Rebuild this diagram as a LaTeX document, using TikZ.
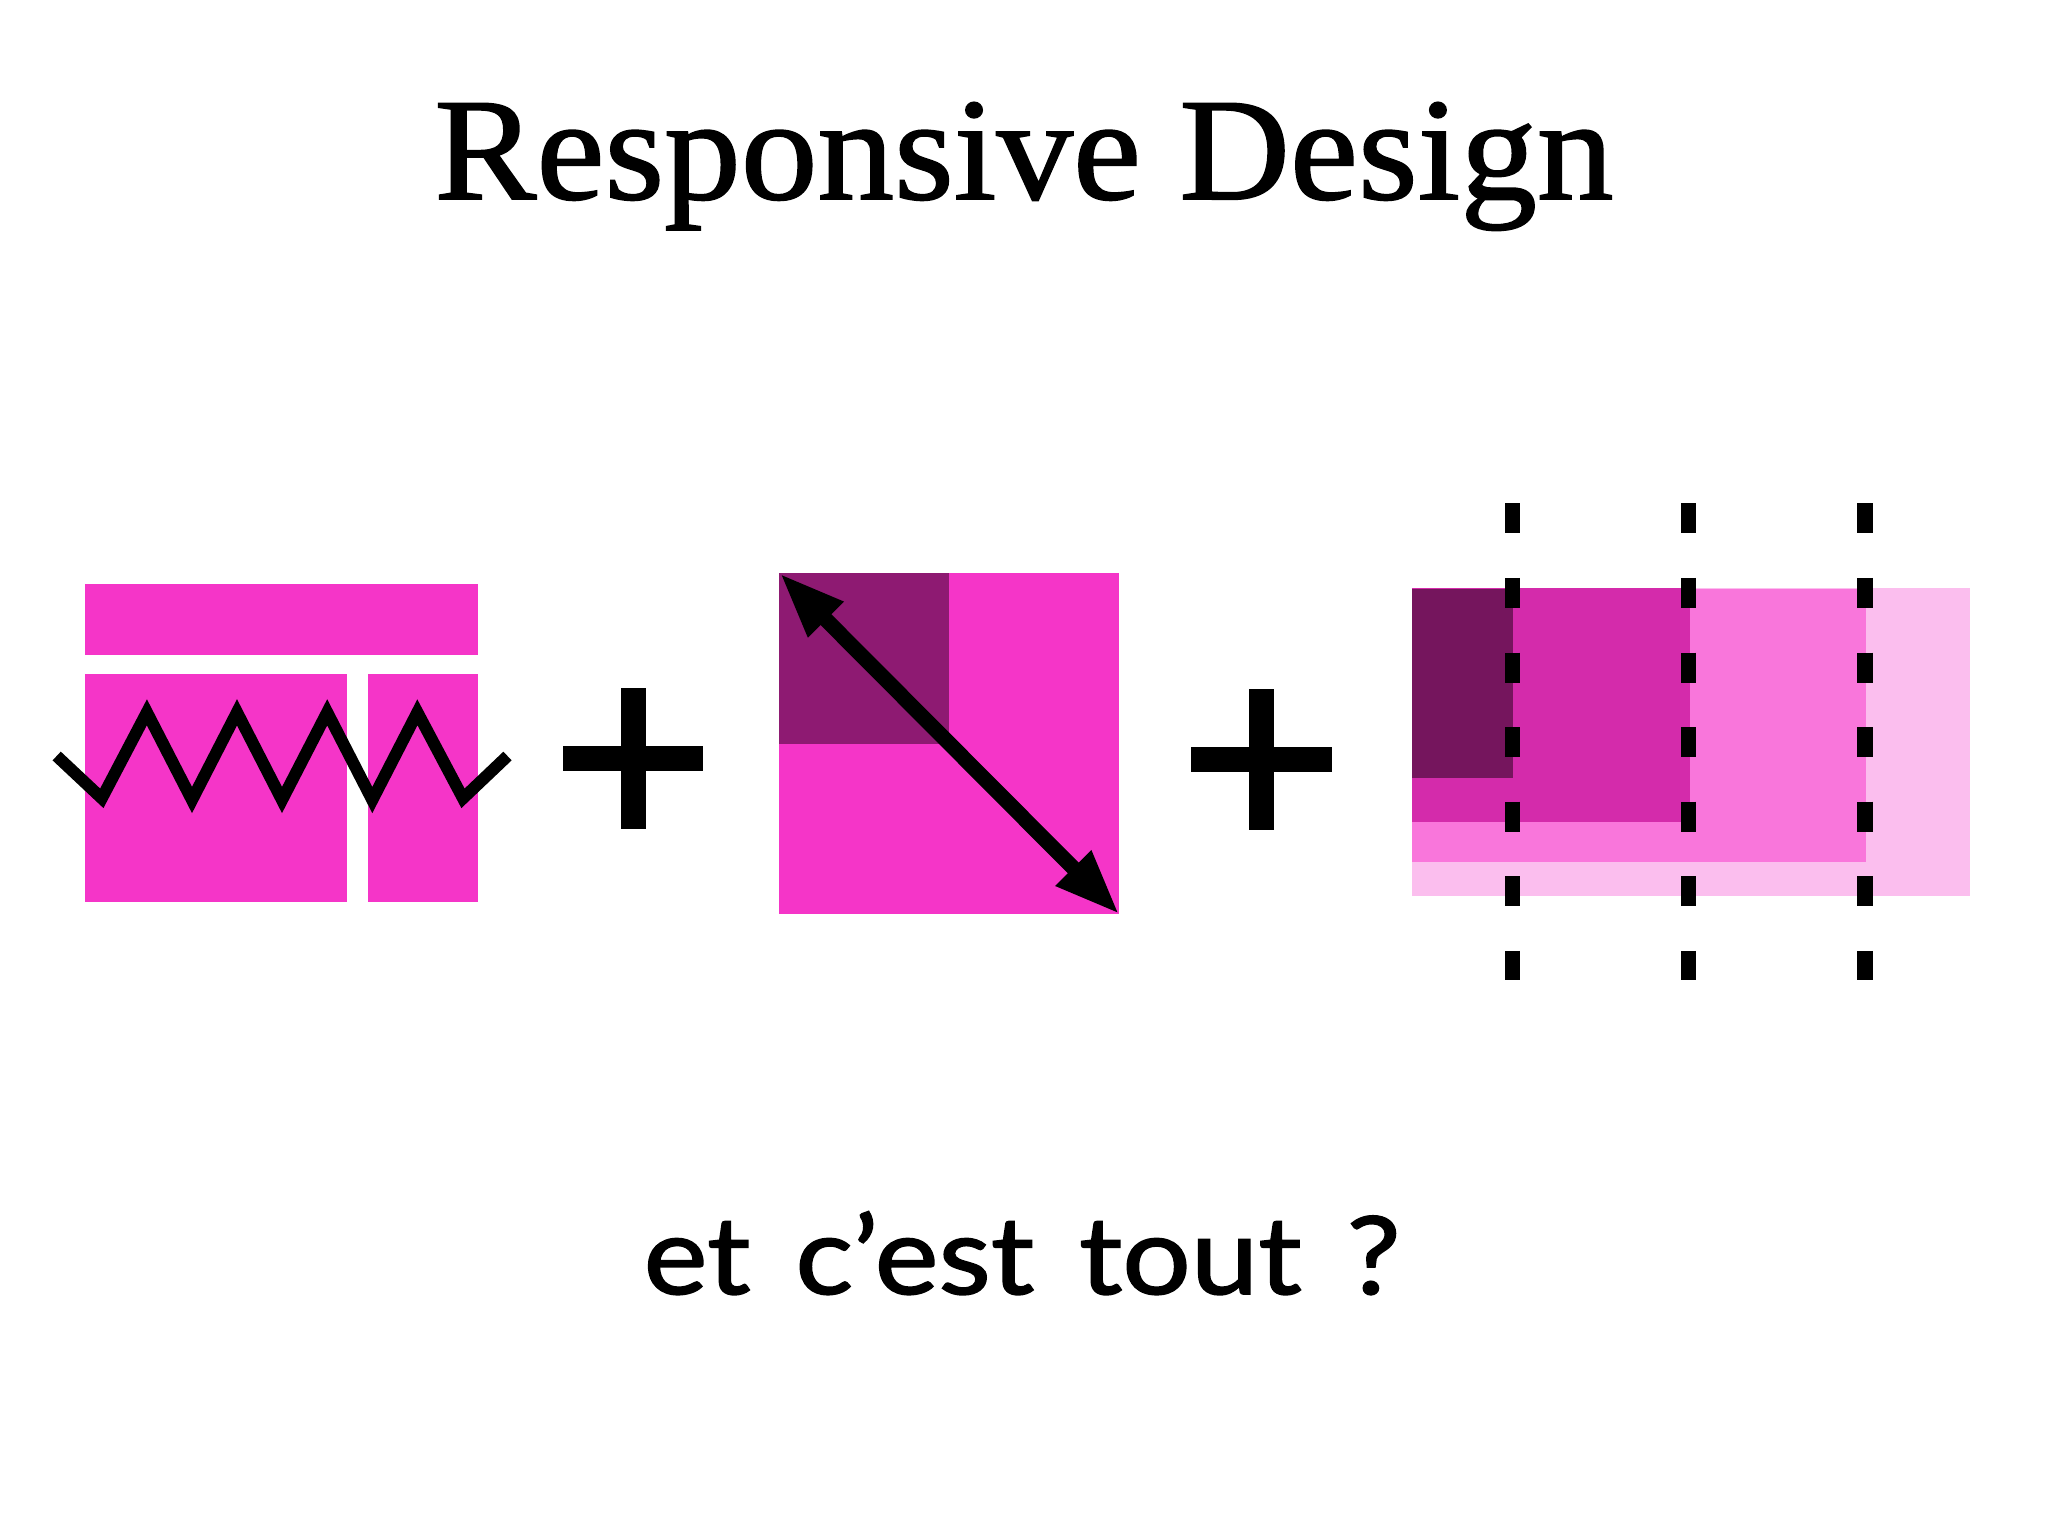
\documentclass[tikz,border=0pt]{standalone}
\usepackage{fontspec}
\usetikzlibrary{arrows.meta}
\setmainfont[FakeStretch=1.05,FakeBold=1.2]{Liberation Serif}
\newfontfamily\gillish[FakeStretch=1.12,FakeBold=1.5,WordSpace=1.45]{Lato}
\definecolor{pinkmain}{HTML}{F535C8}
\definecolor{pinkdark}{HTML}{8E1A72}
\definecolor{pinkdeep}{HTML}{75155D}
\definecolor{pinkstrong}{HTML}{D42BAB}
\definecolor{pinkmid}{HTML}{F976DB}
\definecolor{pinklight}{HTML}{FBBEEE}
\tikzset{
  zig/.style={draw=black,line width=6pt,miter limit=10,line join=miter},
  dbl/.style={draw=black,line width=7.6pt,{Triangle[length=32.7pt,width=23pt]}-{Triangle[length=32.7pt,width=23pt]}},
  cut/.style={draw=black,line width=7.7pt,dash pattern=on 15pt off 22.3pt},
  plusmark/.style={fill=black}
}
\begin{document}
\begin{tikzpicture}[x=0.5pt,y=-0.5pt]
\useasboundingbox (0,0) rectangle (2048,1536);
\fill[white] (0,0) rectangle (2048,1536);
\node[anchor=base,inner sep=0pt,font=\fontsize{73}{80}\selectfont] (title) at (1024,199) {Responsive Design};
% layout
\fill[pinkmain] (85.3,584) rectangle (478.4,655);
\fill[pinkmain] (85.3,674) rectangle (347,901.7);
\fill[pinkmain] (368,674) rectangle (478.4,901.7);
\draw[zig] (56.7,756) -- (101.8,798.3) -- (146.9,712.3) -- (192,800) -- (237,712.3) -- (282,800) -- (327.2,712.3) -- (372.3,800) -- (417.4,712.3) -- (463,798.3) -- (507.5,756);
\fill[plusmark] (621,688.3) rectangle (645.7,828.7);
\fill[plusmark] (563.3,746) rectangle (703.3,770.7);
% square
\fill[pinkmain] (779,573) rectangle (1119.4,914.3);
\fill[pinkdark] (779,573) rectangle (949.4,743.7);
\coordinate (a1) at (779.8,573.3);
\coordinate (a2) at (1119.4,914.3);
\draw[dbl] (a1) -- (a2);
\fill[plusmark] (1249.1,689.3) rectangle (1274,829.7);
\fill[plusmark] (1191.4,747.3) rectangle (1331.8,771.7);
% breakpoints
\fill[pinklight] (1412,587.7) rectangle (1970,896);
\fill[pinkmid] (1412,589.3) rectangle (1866,861.7);
\fill[pinkstrong] (1412,587.7) rectangle (1689.6,821.7);
\fill[pinkdeep] (1412,589.3) rectangle (1513.3,778.3);
\foreach \x in {1512.7,1688.7,1865}{
  \draw[cut] (\x,503.3) -- (\x,980);
}
\node[anchor=base,inner sep=0pt,font=\gillish\fontsize{54}{60}\selectfont] (q) at (1022,1294) {et c’est tout ?};
\end{tikzpicture}
\end{document}
